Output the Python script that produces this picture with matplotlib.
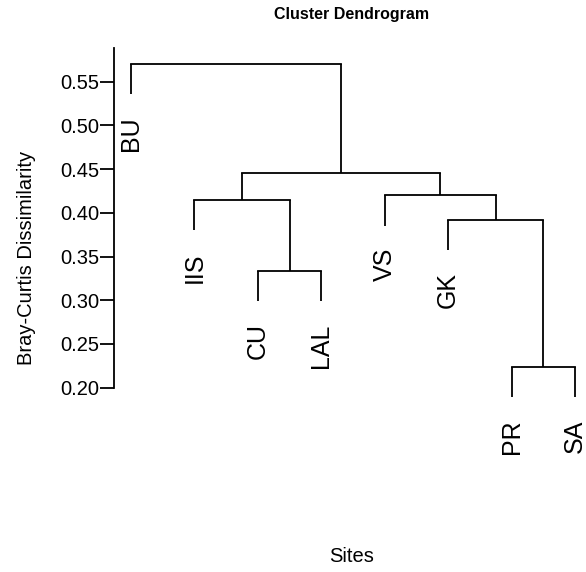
import matplotlib
matplotlib.use("Agg")
import matplotlib.pyplot as plt

plt.rcParams['font.family'] = ['Liberation Sans', 'DejaVu Sans']

# 葉の並び（左から）
leaf_labels = ["BU", "IIS", "CU", "LAL", "VS", "GK", "PR", "SA"]
# 結合 (左, 右, 高さ)  負の数 = 葉番号, 正の数 = 何番目の結合か（R の hclust と同じ書き方）
merge_left = [-7, -3, -6, -2, -5, 4, -1]
merge_right = [-8, -4, 1, 2, 3, 5, 6]
merge_height = [0.224, 0.3335, 0.3918, 0.4145, 0.4201, 0.4456, 0.5702]
yticks = [0.20, 0.25, 0.30, 0.35, 0.40, 0.45, 0.50, 0.55]

fig = plt.figure(figsize=(5.86, 5.72), dpi=100)
ax = fig.add_axes([114.3 / 586, 1 - 387.7 / 572, 1 - 114.3 / 586, 339.4 / 572])

hang = 0.1 * (max(merge_height) - min(merge_height))
lw = 1.3


def node_pos(idx, parent_h):
	# 葉なら x と下端の高さ、結合なら中心 x と高さを返す
	if idx < 0:
		x = -idx
		y = parent_h - hang
		ax.plot([x, x], [y, parent_h], color='black', lw=lw, clip_on=False, solid_capstyle='butt')
		ax.annotate(leaf_labels[x - 1], (x, y), xytext=(0, -16), textcoords='offset points',
			rotation=90, ha='center', va='top', fontsize=18, annotation_clip=False)
		return x
	h = merge_height[idx - 1]
	xl = node_pos(merge_left[idx - 1], h)
	xr = node_pos(merge_right[idx - 1], h)
	ax.plot([xl, xr], [h, h], color='black', lw=lw, clip_on=False, solid_capstyle='projecting')
	xm = (xl + xr) / 2.0
	if parent_h is not None:
		ax.plot([xm, xm], [h, parent_h], color='black', lw=lw, clip_on=False, solid_capstyle='butt')
	return xm


node_pos(len(merge_height), None)

ax.set_xlim(1 - 16.7 / 63.43, 8 + 11 / 63.43)
ax.set_ylim(0.20, 0.20 + 339.4 / 874.3)
for s in ['top', 'right', 'bottom']:
	ax.spines[s].set_visible(False)
ax.spines['left'].set_linewidth(lw)
ax.set_xticks([])
ax.set_yticks(yticks)
ax.set_yticklabels(["%.2f" % t for t in yticks])
ax.tick_params(axis='y', length=10, width=lw, pad=1, labelsize=14.5)

fig.text(352 / 586, 1 - 14 / 572, "Cluster Dendrogram", ha='center', va='center',
	fontsize=11.5, fontweight='bold')
fig.text(352 / 586, 1 - 557 / 572, "Sites", ha='center', va='center', fontsize=14.5)
fig.text(27 / 586, 1 - 258 / 572, "Bray-Curtis Dissimilarity", ha='center', va='center',
	rotation=90, fontsize=14.5)

fig.savefig("out.png", dpi=100)
